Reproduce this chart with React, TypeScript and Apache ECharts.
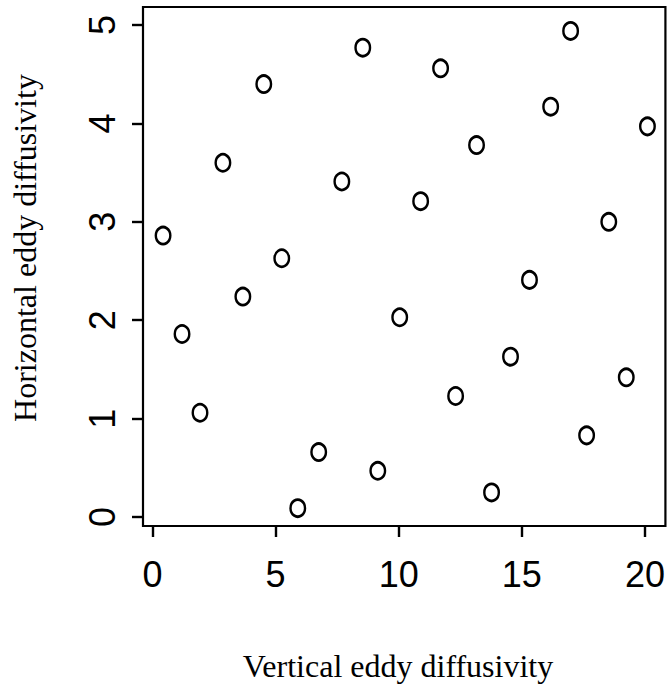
import React, { useEffect, useRef } from "react";
import * as echarts from "echarts";

// Sampled design points: vertical vs horizontal eddy diffusivity
const verticalDiffusivity = [
  0.43, 1.2, 1.93, 2.86, 3.67, 4.52, 5.25, 5.9, 6.75, 7.69, 8.54, 9.15, 10.04,
  10.89, 11.7, 12.31, 13.16, 13.77, 14.54, 15.31, 16.17, 16.98, 17.63, 18.53,
  19.24, 20.1,
];
const horizontalDiffusivity = [
  2.86, 1.86, 1.06, 3.6, 2.24, 4.4, 2.63, 0.09, 0.66, 3.41, 4.77, 0.47, 2.03,
  3.21, 4.56, 1.23, 3.78, 0.25, 1.63, 2.41, 4.17, 4.94, 0.83, 3.0, 1.42, 3.97,
];
const xTicks = [0, 5, 10, 15, 20];
const yTicks = [0, 1, 2, 3, 4, 5];
const xTitle = "Vertical eddy diffusivity";
const yTitle = "Horizontal eddy diffusivity";

const SANS = "'Liberation Sans', Arial, Helvetica, sans-serif";
const SERIF = "'Liberation Serif', 'Times New Roman', serif";

export default function App() {
  const ref = useRef<HTMLDivElement>(null);

  useEffect(() => {
    if (!ref.current) return;
    const chart = echarts.init(ref.current, undefined, { renderer: "svg" });
    const points = verticalDiffusivity.map((v, i) => [v, horizontalDiffusivity[i]]);

    chart.setOption({
      animation: false,
      backgroundColor: "#fff",
      grid: {
        left: 143,
        right: 2,
        top: 7,
        bottom: 168,
        show: true,
        borderColor: "#000",
        borderWidth: 2.2,
        backgroundColor: "transparent",
      },
      xAxis: {
        type: "value",
        min: -0.385,
        max: 20.83,
        axisLine: { show: false, onZero: false },
        splitLine: { show: false },
        axisTick: {
          show: true,
          length: 11,
          customValues: xTicks,
          lineStyle: { color: "#000", width: 2.4 },
        },
        axisLabel: {
          customValues: xTicks,
          margin: 30,
          color: "#000",
          fontFamily: SANS,
          fontSize: 36,
          formatter: (v: number) => String(v),
        },
      },
      yAxis: {
        type: "value",
        min: -0.091,
        max: 5.183,
        axisLine: { show: false, onZero: false },
        splitLine: { show: false },
        axisTick: {
          show: true,
          length: 11,
          customValues: yTicks,
          lineStyle: { color: "#000", width: 2.4 },
        },
        axisLabel: {
          customValues: yTicks,
          rotate: 90,
          margin: 23,
          color: "#000",
          fontFamily: SANS,
          fontSize: 36,
          formatter: (v: number) => String(v),
        },
      },
      graphic: [
        {
          type: "text",
          x: 398,
          y: 666,
          style: {
            text: xTitle,
            font: `32px ${SERIF}`,
            fill: "#000",
            align: "center",
            verticalAlign: "middle",
          },
        },
        {
          type: "text",
          x: 25,
          y: 248,
          rotation: Math.PI / 2,
          style: {
            text: yTitle,
            font: `32px ${SERIF}`,
            fill: "#000",
            align: "center",
            verticalAlign: "middle",
          },
        },
      ],
      series: [
        {
          type: "scatter",
          data: points,
          symbol: "circle",
          symbolSize: [14.5, 17],
          itemStyle: {
            color: "transparent",
            borderColor: "#000",
            borderWidth: 2.6,
            opacity: 1,
          },
        },
      ],
    });

    return () => chart.dispose();
  }, []);

  return (
    <div
      ref={ref}
      style={{ position: "fixed", left: 0, top: 0, width: 668, height: 694 }}
    />
  );
}
